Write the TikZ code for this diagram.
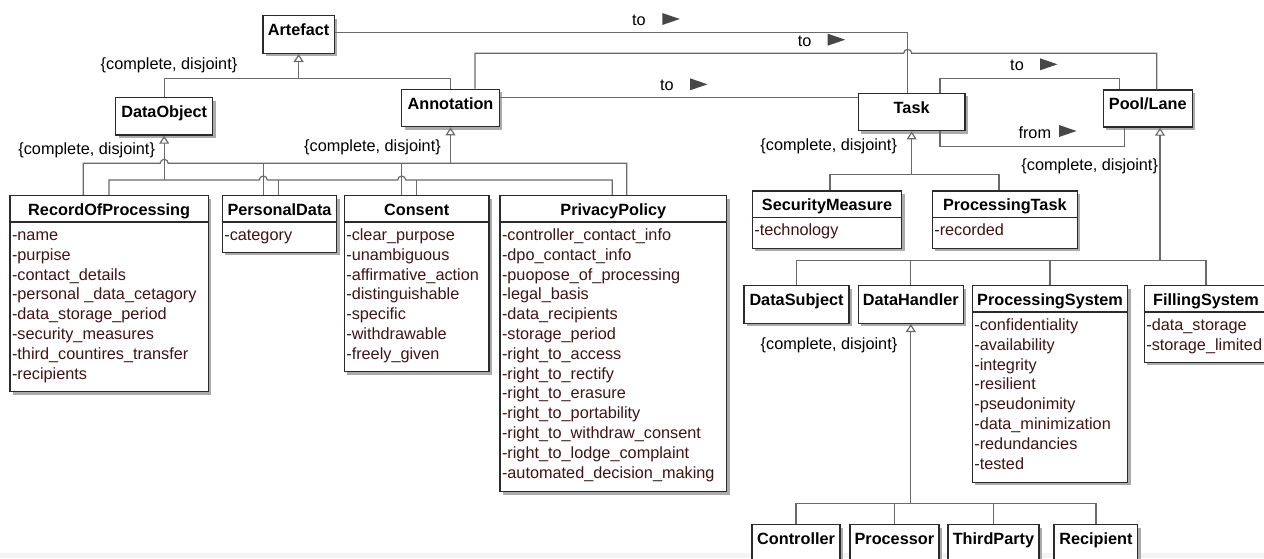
\documentclass[tikz,border=0pt]{standalone}
\usepackage{fontspec}
\setmainfont{Liberation Sans}
\usetikzlibrary{arrows.meta,calc,fit,shadows}

\definecolor{boxline}{HTML}{2B2B2B}
\definecolor{connline}{HTML}{6A6A6A}
\definecolor{attrtext}{HTML}{3F1414}
\definecolor{dirmark}{HTML}{474747}
\definecolor{shadowgray}{HTML}{ABABAB}
\definecolor{bandgray}{HTML}{F4F4F4}

\tikzset{
  box/.style={draw=boxline, line width=1.1pt, fill=white, inner sep=0pt,
    drop shadow={shadow xshift=2.2pt, shadow yshift=-2.2pt, fill=shadowgray, opacity=1}},
  boxrule/.style={draw=boxline, line width=1.1pt},
  classtitle/.style={anchor=base, inner sep=0pt, font=\fontsize{12.2}{14.85}\selectfont\bfseries},
  attrs/.style={anchor=base west, inner sep=0pt, text=attrtext, font=\fontsize{12.2}{14.85}\selectfont},
  conn/.style={draw=connline, line width=0.9pt},
  gen/.style={conn, -{Triangle[open, length=6pt, width=7.5pt]}},
  lbl/.style={inner sep=0pt, font=\fontsize{12.2}{14.85}\selectfont},
  dirtri/.style={fill=dirmark},
}

% one attribute line of a class compartment
\newcommand{\aline}[1]{\hbox{#1}}
% class box without attributes: name, NW corner, SE corner, title
\newcommand{\umlbox}[4]{%
  \node[box, fit={#2 #3}] (#1) {};
  \node[classtitle] (#1-t) at ($(#1.north)+(0,20.5)$) {#4};
}
% class box with an attribute compartment
\newcommand{\umlclass}[5]{%
  \umlbox{#1}{#2}{#3}{#4}
  \draw[boxrule] ($(#1.north west)+(0,27)$) -- ($(#1.north east)+(0,27)$);
  \node[attrs] (#1-a) at ($(#1.north west)+(2.5,45.5)$) {\vtop{#5}};
}
% filled direction marker next to an association name
\newcommand{\dirmark}[2]{\fill[dirtri] (#1,#2-6) -- (#1+17.5,#2) -- (#1,#2+6) -- cycle;}

\begin{document}
\begin{tikzpicture}[x=0.75pt, y=-0.75pt]
\useasboundingbox (0,0) rectangle (1264,558);
\clip (0,0) rectangle (1264,558);
\fill[bandgray] (0,553) rectangle (1264,558);

% ---- classes ----
\umlbox{art}{(263,15.7)}{(334.3,53.3)}{Artefact}
\umlbox{dobj}{(115.7,97.7)}{(212.7,135)}{DataObject}
\umlbox{ann}{(401.7,89.3)}{(499.3,126.7)}{Annotation}
\umlbox{task}{(858.3,93.3)}{(965,130.7)}{Task}
\umlbox{pool}{(1103.3,90)}{(1192.3,127)}{Pool/Lane}

\umlclass{rop}{(10,195.7)}{(208.3,391.7)}{RecordOfProcessing}{%
  \aline{-name}\aline{-purpise}\aline{-contact\_details}\aline{-personal \_data\_cetagory}%
  \aline{-data\_storage\_period}\aline{-security\_measures}\aline{-third\_countires\_transfer}\aline{-recipients}}
\umlclass{pd}{(222.3,195.7)}{(336.7,252.3)}{PersonalData}{\aline{-category}}
\umlclass{cons}{(344.3,195.7)}{(489,371.7)}{Consent}{%
  \aline{-clear\_purpose}\aline{-unambiguous}\aline{-affirmative\_action}\aline{-distinguishable}%
  \aline{-specific}\aline{-withdrawable}\aline{-freely\_given}}
\umlclass{pp}{(500,195.7)}{(726.7,491.7)}{PrivacyPolicy}{%
  \aline{-controller\_contact\_info}\aline{-dpo\_contact\_info}\aline{-puopose\_of\_processing}%
  \aline{-legal\_basis}\aline{-data\_recipients}\aline{-storage\_period}\aline{-right\_to\_access}%
  \aline{-right\_to\_rectify}\aline{-right\_to\_erasure}\aline{-right\_to\_portability}%
  \aline{-right\_to\_withdraw\_consent}\aline{-right\_to\_lodge\_complaint}\aline{-automated\_decision\_making}}

\umlclass{secm}{(752.3,191)}{(901.7,248.3)}{SecurityMeasure}{\aline{-technology}}
\umlclass{ptask}{(932.3,191)}{(1077.3,248.3)}{ProcessingTask}{\aline{-recorded}}

\umlbox{dsub}{(744,285.7)}{(849,323.3)}{DataSubject}
\umlbox{dhand}{(858.3,285.7)}{(963.3,323.3)}{DataHandler}
\umlclass{psys}{(972.3,285.7)}{(1127.7,482.3)}{ProcessingSystem}{%
  \aline{-confidentiality}\aline{-availability}\aline{-integrity}\aline{-resilient}%
  \aline{-pseudonimity}\aline{-data\_minimization}\aline{-redundancies}\aline{-tested}}
\umlclass{fsys}{(1144.3,285.7)}{(1267.7,362.3)}{FillingSystem}{%
  \aline{-data\_storage}\aline{-storage\_limited}}

\umlbox{ctrl}{(752.1,524.6)}{(840,575)}{Controller}
\umlbox{proc}{(849.9,524.6)}{(938.8,575)}{Processor}
\umlbox{third}{(948,524.6)}{(1038.9,575)}{ThirdParty}
\umlbox{recip}{(1054.2,524.6)}{(1137.7,575)}{Recipient}

% ---- generalizations ----
\coordinate (jArt) at (art.south |- 0,78.3);
\draw[conn] (dobj.north) |- (jArt) -| (ann.north);
\draw[gen] (jArt) -- (art.south);
\node[lbl] (cd1) at (169,65) {\{complete, disjoint\}};

% DataObject subclasses (lower rail)
\draw[conn] (109,0 |- rop.north) -- (109,180) -- (259.3,180)
  arc[start angle=180, end angle=360, radius=4] -- (397.7,180)
  arc[start angle=180, end angle=360, radius=4] -- (612.3,180) -- (612.3,0 |- pp.north);
\draw[conn] (278.3,180) -- (278.3,0 |- pd.north);
\draw[conn] (416.7,180) -- (416.7,0 |- cons.north);
\draw[gen] (dobj.south |- 0,180) -- (dobj.south);
\node[lbl] (cd2) at (86.7,150) {\{complete, disjoint\}};

% Annotation subclasses (upper rail)
\draw[conn] (83.3,0 |- rop.north) -- (83.3,163.3) -- ($(dobj.south |- 0,163.3)+(-4,0)$)
  arc[start angle=180, end angle=360, radius=4] -- (626.7,163.3) -- (626.7,0 |- pp.north);
\draw[conn] (263.3,163.3) -- (263.3,0 |- pd.north);
\draw[conn] (401.7,163.3) -- (401.7,0 |- cons.north);
\draw[gen] (ann.south |- 0,163.3) -- (ann.south);
\node[lbl] (cd3) at (372.5,147) {\{complete, disjoint\}};

% Task subclasses
\draw[conn] (830,0 |- secm.north) |- (999,174.3) -- (999,0 |- ptask.north);
\draw[gen] (task.south |- 0,174.3) -- (task.south);
\node[lbl] (cd4) at (828.7,146) {\{complete, disjoint\}};

% Pool/Lane subclasses
\draw[conn] (dsub.north) |- (fsys.north |- 0,260.7) -- (fsys.north);
\draw[conn] (dhand.north) -- (dhand.north |- 0,260.7);
\draw[conn] (psys.north) -- (psys.north |- 0,260.7);
\draw[gen] (1160,260.7) -- (1160,0 |- pool.south);
\node[lbl] (cd5) at (1089.7,166) {\{complete, disjoint\}};

% DataHandler subclasses
\draw[conn] (ctrl.north) |- (recip.north |- 0,503.4) -- (recip.north);
\draw[conn] (proc.north) -- (proc.north |- 0,503.4);
\draw[conn] (third.north) -- (third.north |- 0,503.4);
\draw[gen] (dhand.south |- 0,503.4) -- (dhand.south);
\node[lbl] (cd6) at (829,345) {\{complete, disjoint\}};

% ---- associations ----
\draw[conn] (art.east |- 0,32.3) -- (907.7,32.3) -- (907.7,0 |- task.north);
\node[lbl] (a1) at (639,20.5) {to};
\dirmark{662.3}{19}

\draw[conn] (475,0 |- ann.north) -- (475,53.3) -- (903.7,53.3)
  arc[start angle=180, end angle=360, radius=4] -- (1156.7,53.3) -- (1156.7,0 |- pool.north);
\node[lbl] (a2) at (804.7,41) {to};
\dirmark{827.7}{39.7}

\draw[conn] (ann.east |- 0,97.7) -- (task.west |- 0,97.7);
\node[lbl] (a3) at (667,85.7) {to};
\dirmark{690}{84.3}

\draw[conn] (940,0 |- task.north) -- (940,78.3) -- (1119.3,78.3) -- (1119.3,0 |- pool.north);
\node[lbl] (a4) at (1017,65.7) {to};
\dirmark{1040}{64.3}

\draw[conn] (940,0 |- task.south) -- (940,146.7) -- (1124.3,146.7) -- (1124.3,0 |- pool.south);
\node[lbl] (a5) at (1034.8,132.3) {from};
\dirmark{1059}{131}
\end{tikzpicture}
\end{document}
